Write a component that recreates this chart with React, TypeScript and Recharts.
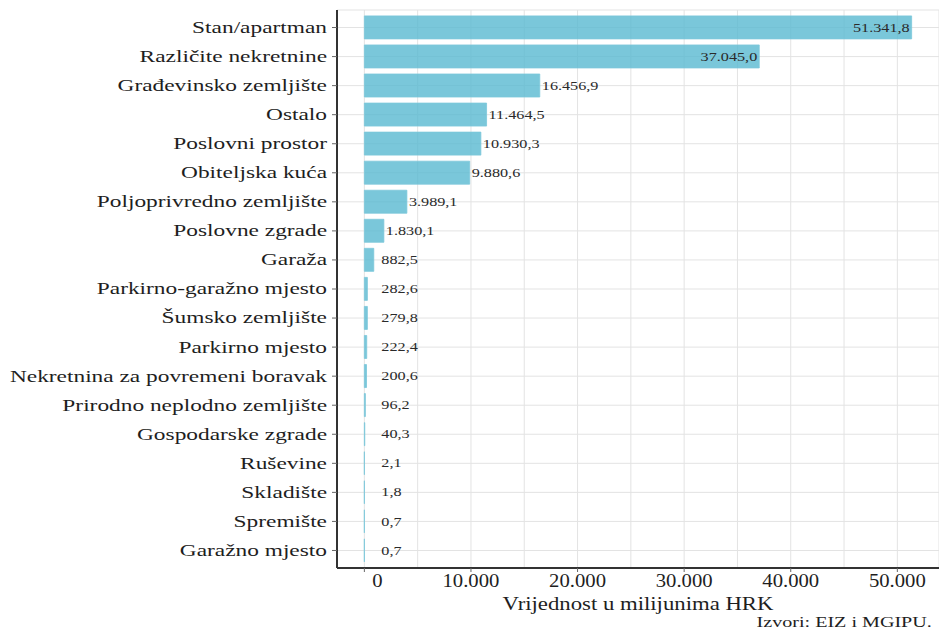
import { Bar, BarChart, CartesianGrid, LabelList, XAxis, YAxis } from 'recharts'

// Vrste nekretnina, od najveće vrijednosti prema najmanjoj
const CATEGORIES = [
  'Stan/apartman',
  'Različite nekretnine',
  'Građevinsko zemljište',
  'Ostalo',
  'Poslovni prostor',
  'Obiteljska kuća',
  'Poljoprivredno zemljište',
  'Poslovne zgrade',
  'Garaža',
  'Parkirno-garažno mjesto',
  'Šumsko zemljište',
  'Parkirno mjesto',
  'Nekretnina za povremeni boravak',
  'Prirodno neplodno zemljište',
  'Gospodarske zgrade',
  'Ruševine',
  'Skladište',
  'Spremište',
  'Garažno mjesto',
]

// Vrijednost u milijunima HRK
const VALUES = [
  51341.8, 37045.0, 16456.9, 11464.5, 10930.3, 9880.6, 3989.1, 1830.1, 882.5, 282.6, 279.8, 222.4,
  200.6, 96.2, 40.3, 2.1, 1.8, 0.7, 0.7,
]

const X_TICKS = [0, 10000, 20000, 30000, 40000, 50000]
const GRID_TICKS = [0, 5000, 10000, 15000, 20000, 25000, 30000, 35000, 40000, 45000, 50000]

const data = CATEGORIES.map((name, i) => ({ name, value: VALUES[i] }))

// ggplot-style 5% expansion on both ends
const maxVal = Math.max(...VALUES)
const DOMAIN: [number, number] = [-0.05 * maxVal, maxVal * 1.05]

const FONT = '"Liberation Serif", "Times New Roman", serif'
const TEXT = '#1e1e1e'
const GRID = '#e3e3e3'
const AXIS = '#333333'

const groupThousands = (s: string) => s.replace(/\B(?=(\d{3})+(?!\d))/g, '.')
const fmtValue = (v: number) => {
  const [int, dec] = v.toFixed(1).split('.')
  return groupThousands(int) + ',' + dec
}
const fmtTick = (v: number) => groupThousands(String(v))

function YTick({ x, y, payload }: any) {
  return (
    <g transform={`translate(${x - 3},${y}) scale(1.46,1)`}>
      <text x={0} y={0} dy="0.34em" textAnchor="end" fontFamily={FONT} fontSize={16} fill={TEXT}>
        {payload.value}
      </text>
    </g>
  )
}

function XTick({ x, y, payload }: any) {
  const shift = payload.value === 0 ? 13 : 0
  return (
    <g transform={`translate(${x + shift},${y}) scale(1.15,1)`}>
      <text x={0} y={0} dy={15} textAnchor="middle" fontFamily={FONT} fontSize={18} fill={TEXT}>
        {fmtTick(payload.value)}
      </text>
    </g>
  )
}

function ValueLabel({ x, y, width, height, value }: any) {
  const end = x + width
  const inside = value > 30000
  const lx = inside ? end - 2 : Math.max(end + 2, x + 17)
  return (
    <g transform={`translate(${lx},${y + height / 2}) scale(1.35,1)`}>
      <text
        x={0}
        y={0}
        dy="0.35em"
        textAnchor={inside ? 'end' : 'start'}
        fontFamily={FONT}
        fontSize={12}
        fill="#2a2a2a"
      >
        {fmtValue(value)}
      </text>
    </g>
  )
}

function AxisTitle({ viewBox }: any) {
  const cx = viewBox.x + viewBox.width / 2
  return (
    <g transform={`translate(${cx},${viewBox.y + 42}) scale(1.23,1)`}>
      <text x={0} y={0} textAnchor="middle" fontFamily={FONT} fontSize={18.5} fill={TEXT}>
        Vrijednost u milijunima HRK
      </text>
    </g>
  )
}

export default function App() {
  return (
    <div style={{ position: 'absolute', left: 0, top: 0, width: 939, height: 635, background: '#fff' }}>
      <BarChart
        width={939}
        height={635}
        data={data}
        layout="vertical"
        margin={{ top: 10, right: 0, bottom: 0, left: 0 }}
        barCategoryGap="10%"
      >
        <XAxis xAxisId="grid" type="number" domain={DOMAIN} ticks={GRID_TICKS} hide allowDataOverflow />
        <CartesianGrid xAxisId="grid" stroke={GRID} strokeWidth={1} />
        <XAxis
          type="number"
          domain={DOMAIN}
          ticks={X_TICKS}
          allowDataOverflow
          height={67}
          tickSize={4}
          tickMargin={0}
          axisLine={{ stroke: AXIS, strokeWidth: 2 }}
          tickLine={{ stroke: '#666' }}
          tick={<XTick />}
          label={<AxisTitle />}
        />
        <YAxis
          type="category"
          dataKey="name"
          width={337}
          interval={0}
          padding={{ top: 3, bottom: 3 }}
          tickSize={5}
          axisLine={{ stroke: AXIS, strokeWidth: 2 }}
          tickLine={{ stroke: '#666' }}
          tick={<YTick />}
        />
        <Bar
          dataKey="value"
          fill="#59b9d1"
          fillOpacity={0.8}
          stroke="#7cc8db"
          strokeWidth={0.8}
          isAnimationActive={false}
        >
          <LabelList dataKey="value" content={<ValueLabel />} />
        </Bar>
      </BarChart>
      <div
        style={{
          position: 'absolute',
          right: 7,
          top: 614,
          fontFamily: FONT,
          fontSize: 15,
          color: TEXT,
          transform: 'scaleX(1.34)',
          transformOrigin: 'right center',
          whiteSpace: 'nowrap',
        }}
      >
        Izvori: EIZ i MGIPU.
      </div>
    </div>
  )
}
